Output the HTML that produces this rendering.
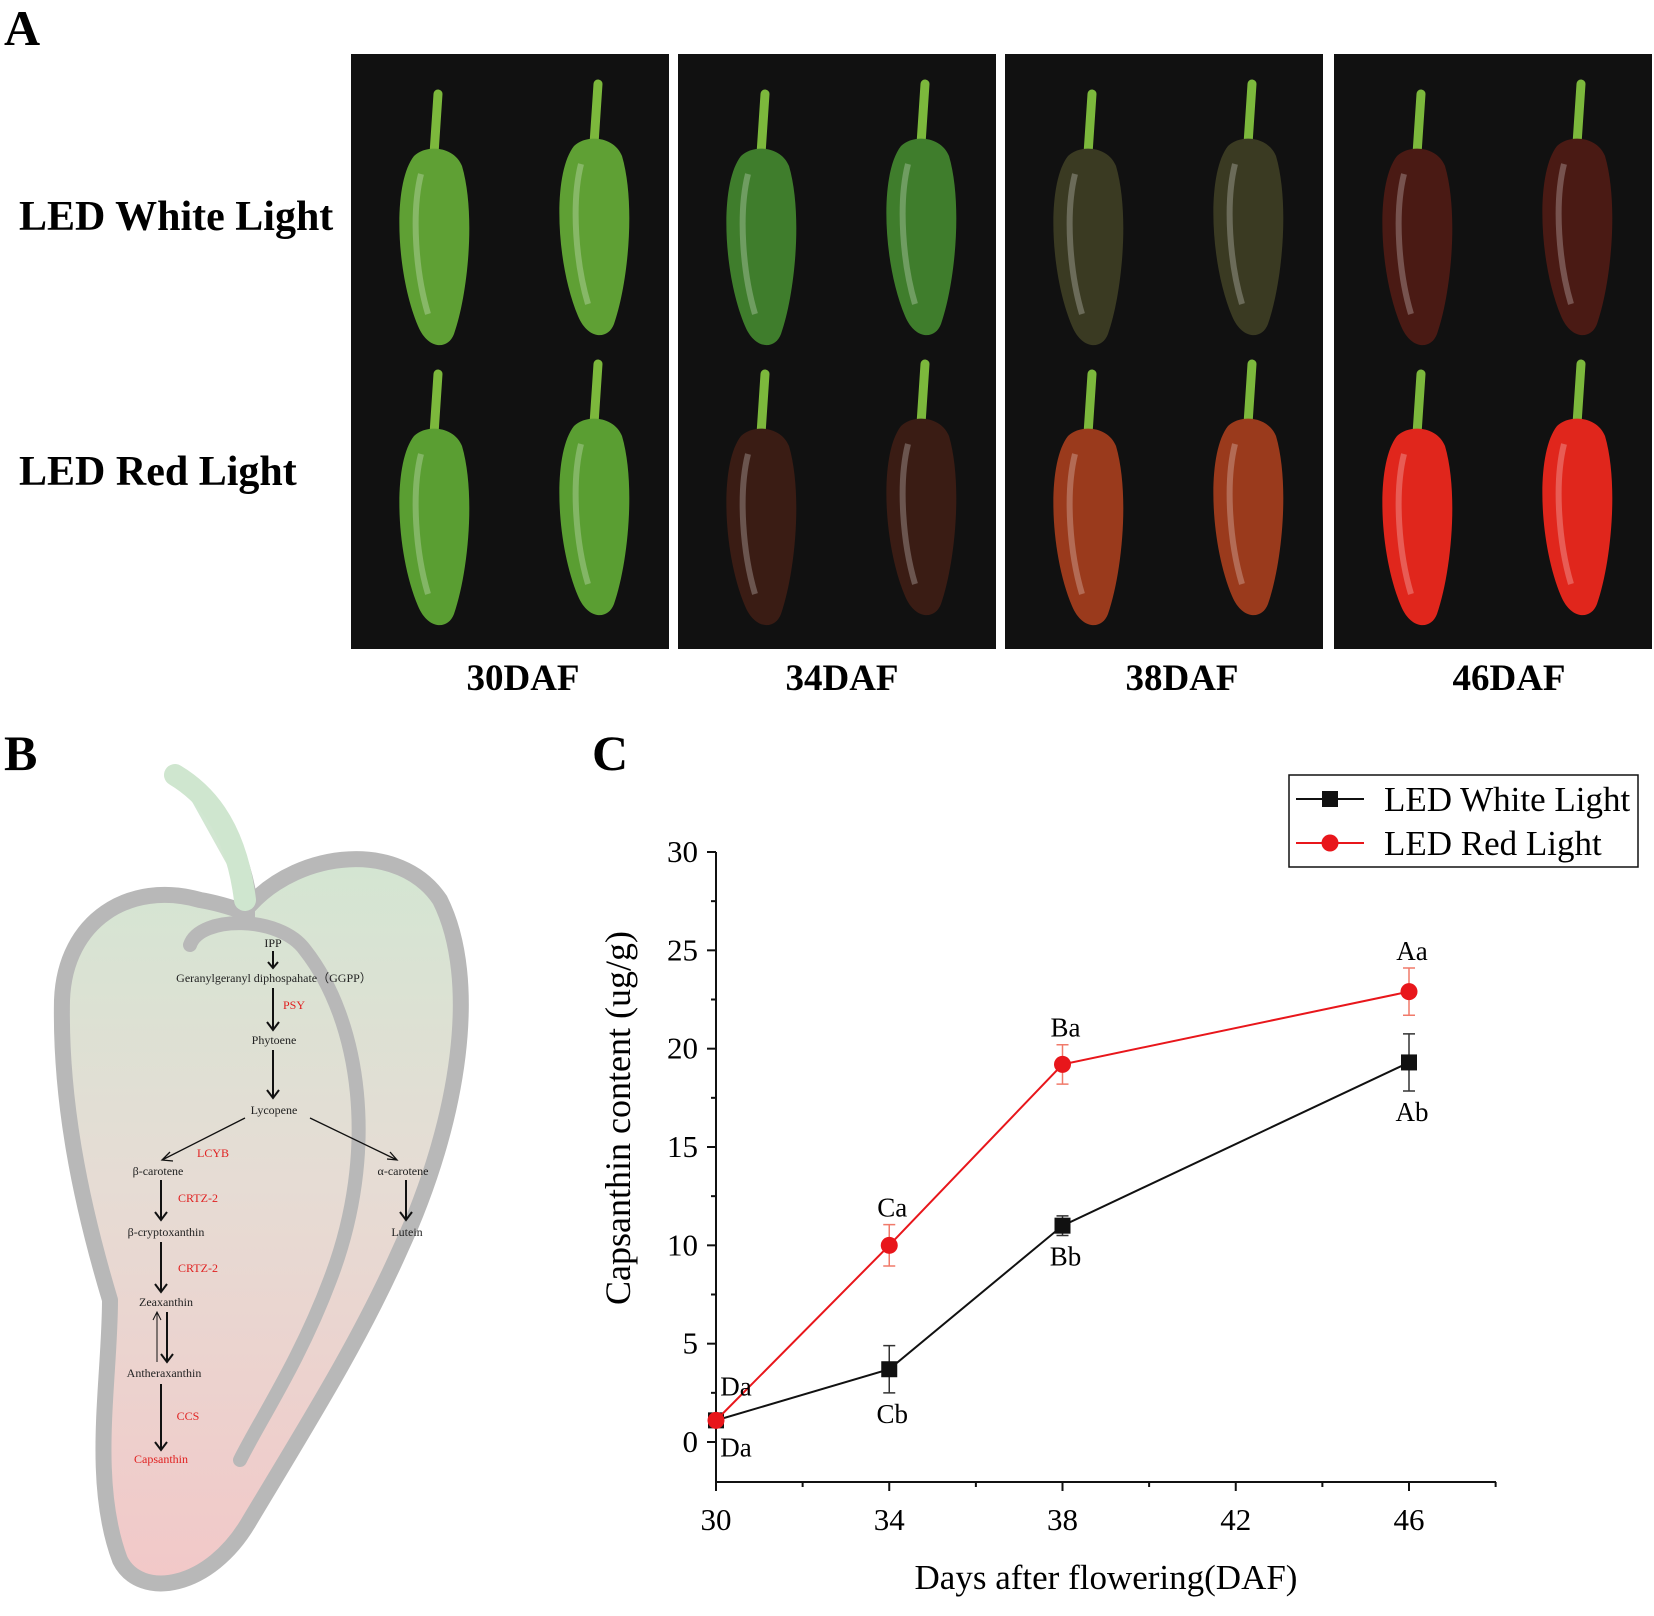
<!DOCTYPE html>
<html><head><meta charset="utf-8">
<style>
html,body{margin:0;padding:0;background:#fff;}
svg{display:block;font-family:"Liberation Serif",serif;}
</style></head>
<body>
<svg id="fig" width="1654" height="1616" viewBox="0 0 1654 1616" xmlns="http://www.w3.org/2000/svg">
<defs>
<linearGradient id="pg" x1="0" y1="0" x2="0" y2="1">
<stop offset="0" stop-color="#cfe8d2"/><stop offset="0.5" stop-color="#e6dcd4"/><stop offset="1" stop-color="#f2c8c8"/>
</linearGradient>
</defs>
<text x="4" y="45" font-size="50" font-weight="bold">A</text>
<text x="19" y="230" font-size="42" font-weight="bold">LED White Light</text>
<text x="19" y="485" font-size="42" font-weight="bold">LED Red Light</text>
<g id="photos"></g>
<text x="523" y="690" font-size="37" font-weight="bold" text-anchor="middle">30DAF</text>
<text x="842" y="690" font-size="37" font-weight="bold" text-anchor="middle">34DAF</text>
<text x="1182" y="690" font-size="37" font-weight="bold" text-anchor="middle">38DAF</text>
<text x="1509" y="690" font-size="37" font-weight="bold" text-anchor="middle">46DAF</text>

<text x="4" y="770" font-size="50" font-weight="bold">B</text>
<g>
<path d="M180,780 C200,790 240,830 250,905 C300,850 400,840 440,900 C480,980 460,1120 400,1250 C360,1340 310,1420 250,1520 C210,1590 140,1600 120,1560 C90,1480 110,1380 110,1300 C80,1200 60,1100 62,1000 C65,920 130,880 200,900 C230,905 250,915 255,915" fill="url(#pg)" stroke="#b8b8b8" stroke-width="16" stroke-linejoin="round"/>
<path d="M175,775 C200,790 235,820 245,900" fill="none" stroke="#cfe6cf" stroke-width="22" stroke-linecap="round"/>
<path d="M190,945 C200,915 280,915 305,950 C360,1020 380,1150 330,1280 C300,1360 260,1420 240,1460" fill="none" stroke="#b8b8b8" stroke-width="14" stroke-linecap="round"/>
<g font-size="12" fill="#222" text-anchor="middle">
<text x="273" y="947">IPP</text>
<text x="274" y="982">Geranylgeranyl diphospahate（GGPP）</text>
<text x="294" y="1009" fill="#e02020">PSY</text>
<text x="274" y="1044">Phytoene</text>
<text x="274" y="1114">Lycopene</text>
<text x="213" y="1157" fill="#e02020">LCYB</text>
<text x="158" y="1175">β-carotene</text>
<text x="403" y="1175">α-carotene</text>
<text x="198" y="1202" fill="#e02020">CRTZ-2</text>
<text x="166" y="1236">β-cryptoxanthin</text>
<text x="407" y="1236">Lutein</text>
<text x="198" y="1272" fill="#e02020">CRTZ-2</text>
<text x="166" y="1306">Zeaxanthin</text>
<text x="164" y="1377">Antheraxanthin</text>
<text x="188" y="1420" fill="#e02020">CCS</text>
<text x="161" y="1463" fill="#e02020">Capsanthin</text>
</g>
<g stroke="#111" stroke-width="2" fill="none">
<path d="M273,951 V968 M268,962 L273,968 L278,962"/>
<path d="M273,988 V1030 M267,1022 L273,1030 L279,1022"/>
<path d="M273,1050 V1098 M267,1090 L273,1098 L279,1090"/>
<path d="M245,1118 L162,1160 M170,1152 L162,1160 L173,1161" stroke-width="1.3"/>
<path d="M310,1118 L397,1160 M387,1159 L397,1160 L390,1152" stroke-width="1.3"/>
<path d="M161,1180 V1220 M155,1212 L161,1220 L167,1212"/>
<path d="M406,1180 V1220 M400,1212 L406,1220 L412,1212"/>
<path d="M161,1242 V1292 M155,1284 L161,1292 L167,1284"/>
<path d="M167,1312 V1362 M161,1354 L167,1362 L173,1354"/>
<path d="M157,1362 V1312 M153,1320 L157,1312 L161,1320" stroke-width="1"/>
<path d="M161,1384 V1450 M155,1442 L161,1450 L167,1442"/>
</g>
</g>

<text x="592" y="770" font-size="50" font-weight="bold">C</text>
<g id="chart"></g>
</svg>
<script>
const NS="http://www.w3.org/2000/svg";
function mk(parent,tag,attrs){const e=document.createElementNS(NS,tag);for(const k in attrs)e.setAttribute(k,attrs[k]);parent.appendChild(e);return e;}
const photos=document.getElementById('photos');
const panelXs=[351,678,1005,1334];
const colorsTop=['#5fa034','#3f7d2c','#3a3a22','#4a1a14'];
const colorsBot=['#5a9e32','#3a1c14','#9a3a1c','#e0261c'];
panelXs.forEach((px,i)=>{
  const g=mk(photos,'g',{});
  
  
  mk(g,'rect',{x:px,y:54,width:318,height:595,fill:'#111'});
  [[0,0,colorsTop[i]],[0,280,colorsBot[i]]].forEach(([dx,dy,c])=>{
    [85,245].forEach((cx,j)=>{
      const pg=mk(g,'g',{transform:`translate(${px+cx-40},${54+30+dy+(j?0:10)})`});
      mk(pg,'path',{d:'M38,60 L42,0',stroke:'#7cb83c','stroke-width':9,'stroke-linecap':'round'});
      mk(pg,'path',{d:'M18,62 C-4,90 0,180 22,232 C32,256 52,256 58,240 C72,200 80,120 66,72 C58,52 30,50 18,62Z',fill:c});
      mk(pg,'path',{d:'M25,80 C15,120 20,180 32,220',stroke:'rgba(255,255,255,0.25)','stroke-width':6,fill:'none'});
    });
  });
});

const days=[30,34,38,46];
const whiteVals=[1.1,3.7,11.0,19.3];
const whiteErr=[0.1,1.2,0.5,1.45];
const redVals=[1.1,10.0,19.2,22.9];
const redErr=[0.1,1.05,1.0,1.2];
const whiteLetters=['Da','Cb','Bb','Ab'];
const redLetters=['Da','Ca','Ba','Aa'];
const xTicks=[30,34,38,42,46];
const yTicks=[0,5,10,15,20,25,30];

const X0=716,X1=1409,Y0=1442,Y30=852;
const xs=d=>X0+(d-30)*(X1-X0)/16;
const ys=v=>Y0-v*(Y0-Y30)/30;
const ch=document.getElementById('chart');
const ax=mk(ch,'path',{d:`M${X0},${Y30} V1482 H1496`,stroke:'#111','stroke-width':2,fill:'none'});


for(let v=-2.5;v<=30;v+=2.5){const y=ys(v);const major=v%5===0;if(y>1482)continue;mk(ch,'line',{x1:X0-(major?9:5),x2:X0,y1:y,y2:y,stroke:'#111','stroke-width':2});}
yTicks.forEach(v=>{const t=mk(ch,'text',{x:X0-18,y:ys(v)+10,'font-size':31,'text-anchor':'end'});t.textContent=v;

});
for(let d=30;d<=48;d+=2){const x=xs(d);const major=(d-30)%4===0;mk(ch,'line',{x1:x,x2:x,y1:1482,y2:1482+(major?9:5),stroke:'#111','stroke-width':2});}
xTicks.forEach(d=>{const t=mk(ch,'text',{x:xs(d),y:1530,'font-size':31,'text-anchor':'middle'});t.textContent=d;

});
const yt=mk(ch,'text',{x:0,y:0,'font-size':36,'text-anchor':'middle',transform:'translate(630,1118) rotate(-90)'});
yt.textContent='Capsanthin content (ug/g)';


const xt=mk(ch,'text',{x:1106,y:1589,'font-size':35,'text-anchor':'middle'});
xt.textContent='Days after flowering(DAF)';



function series(vals,errs,color,errColor,shape,name){
  const g=mk(ch,'g',{});
  
  
  mk(g,'polyline',{points:days.map((d,i)=>xs(d)+','+ys(vals[i])).join(' '),fill:'none',stroke:color,'stroke-width':2});
  days.forEach((d,i)=>{
    const x=xs(d),y1=ys(vals[i]+errs[i]),y2=ys(vals[i]-errs[i]);
    mk(g,'path',{d:`M${x},${y1} V${y2} M${x-6},${y1} H${x+6} M${x-6},${y2} H${x+6}`,stroke:errColor,'stroke-width':1.5,fill:'none'});
    let m;
    if(shape==='sq') m=mk(g,'rect',{x:x-8,y:ys(vals[i])-8,width:16,height:16,fill:color});
    else m=mk(g,'circle',{cx:x,cy:ys(vals[i]),r:8.5,fill:color});
    
    
  });
}
series(whiteVals,whiteErr,'#111','#333','sq','series-white');
series(redVals,redErr,'#e8161b','#f07a6a','ci','series-red');
days.forEach((d,i)=>{
  const x=xs(d)+(i===0?20:3);
  const wb=ys(whiteVals[i]-whiteErr[i])+30;
  const t=mk(ch,'text',{x:x,y:i===0?ys(whiteVals[i])+36:wb,'font-size':27,'text-anchor':'middle'});
  t.textContent=whiteLetters[i];
  
  
  const rt=ys(redVals[i]+redErr[i])-8;
  const t2=mk(ch,'text',{x:x,y:i===0?ys(redVals[i])-25:rt,'font-size':27,'text-anchor':'middle'});
  t2.textContent=redLetters[i];
  
  
});
const lg=mk(ch,'g',{});


mk(lg,'rect',{x:1289,y:775,width:349,height:92,fill:'#fff',stroke:'#111','stroke-width':1.5});
mk(lg,'line',{x1:1296,x2:1364,y1:799,y2:799,stroke:'#111','stroke-width':2});
mk(lg,'rect',{x:1322,y:791,width:16,height:16,fill:'#111'});
mk(lg,'line',{x1:1296,x2:1364,y1:843,y2:843,stroke:'#e8161b','stroke-width':2});
mk(lg,'circle',{cx:1330,cy:843,r:8.5,fill:'#e8161b'});
const l1=mk(lg,'text',{x:1384,y:811,'font-size':35});l1.textContent='LED White Light';


const l2=mk(lg,'text',{x:1384,y:855,'font-size':35});l2.textContent='LED Red Light';


</script>
</body></html>
